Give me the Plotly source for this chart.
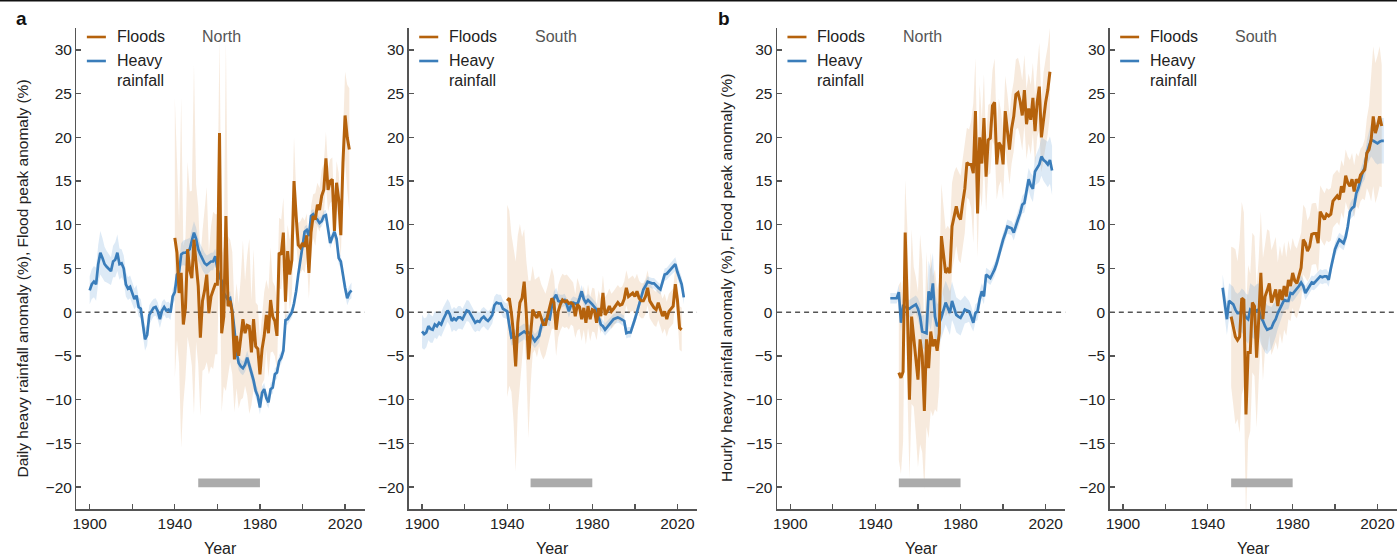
import plotly.graph_objects as go

FONT = "Liberation Sans, Arial, Helvetica, sans-serif"
ORANGE = "#B5620C"
BLUE = "#3A7DBA"
ORANGE_BAND = "rgba(222,170,120,0.25)"
BLUE_BAND = "rgba(100,160,215,0.22)"
AXC = "#555555"

# ---------------- data ----------------
# Panel a, North (daily)
rain_a_n_years = list(range(1900, 2024))
rain_a_n = [2.5, 3.2, 3.5, 3.2, 5.5, 6.8, 6.2, 5.5, 5.2, 5.0,
            4.7, 5.8, 6.0, 6.8, 5.5, 5.6, 5.0, 3.2, 2.7, 2.9,
            2.2, 1.5, 1.9, 0.6, 0.4, -1.5, -3.1, -2.6, -0.3, 0.1,
            0.5, 0.6, 0.1, -0.8, 0.2, 0.6, 0.2, 0.3, 0.0, 1.8,
            2.3, 4.3, 4.6, 6.6, 6.8, 6.8, 7.0, 7.2, 8.2, 9.1,
            8.4, 7.2, 6.6, 6.0, 5.6, 5.4, 5.6, 5.8, 5.8, 6.4,
            5.0, 4.0, 3.6, 2.2, 1.8, 1.4, 1.6, 0.2, -2.0, -4.5,
            -5.8, -6.2, -6.4, -6.0, -5.2, -6.0, -7.0, -7.8, -9.0, -9.6,
            -10.9, -9.2, -8.8, -9.8, -10.3, -8.8, -8.6, -7.1, -6.9, -5.6,
            -5.2, -4.4, -0.9, -0.8, -0.4, 0.0, 1.0, 2.4, 4.3, 5.9,
            7.5, 9.2, 9.4, 8.7, 11.0, 11.2, 10.8, 10.6, 10.2, 10.4,
            11.0, 11.1, 9.5, 7.9, 8.6, 9.2, 8.4, 6.2, 5.8, 4.0,
            2.8, 1.6, 2.2, 2.5]
rain_a_n_err = [1.6, 1.7, 1.8, 1.9, 2.2, 2.5, 2.3, 2.0, 1.8, 1.7,
                1.6, 1.8, 2.0, 2.1, 1.8, 1.6, 1.5, 1.4, 1.3, 1.3,
                1.2, 1.2, 1.2, 1.1, 1.1, 1.2, 1.3, 1.2, 1.1, 1.1,
                1.0, 1.0, 1.0, 1.0, 1.0, 0.9, 0.9, 0.9, 0.9, 0.9,
                0.9, 1.0, 1.1, 1.3, 1.4, 1.5, 1.4, 1.3, 1.3, 1.3,
                1.3, 1.3, 1.2, 1.2, 1.2, 1.1, 1.1, 1.0, 1.0, 0.9,
                0.9, 0.8, 0.8, 0.8, 0.8, 0.8, 0.8, 0.8, 0.8, 0.8,
                0.8, 0.8, 0.8, 0.8, 0.8, 0.8, 0.8, 0.8, 0.8, 0.8,
                0.8, 0.7, 0.7, 0.7, 0.7, 0.7, 0.7, 0.7, 0.7, 0.7,
                0.7, 0.7, 0.6, 0.6, 0.6, 0.6, 0.6, 0.6, 0.6, 0.6,
                0.6, 0.6, 0.6, 0.6, 0.6, 0.6, 0.6, 0.6, 0.6, 0.6,
                0.6, 0.6, 0.6, 0.6, 0.6, 0.6, 0.6, 0.7, 0.7, 0.7,
                0.8, 0.8, 0.8, 0.9]
flood_a_n_years = list(range(1940, 2023))
flood_a_n = [8.5, 6.8, 2.2, 4.5, -1.4, 0.5, 7.2, 4.8, 3.9, 8.3,
             5.6, 3.0, -2.9, 1.3, 2.5, 4.3, -0.1, 1.8, 2.5, 3.2,
             3.2, 20.5, -2.4, -0.5, 11.0, 0.7, 1.3, -0.1, -5.4, -2.7,
             -5.0, -3.0, -0.8, -2.4, -1.5, -1.6, -4.6, -0.8, -3.9, -4.2,
             -7.1, -4.2, -2.7, -0.3, -2.4, 1.4, -0.5, -1.0, -2.7, 6.8,
             6.6, 9.1, 1.2, 7.0, 4.3, 6.0, 15.0, 11.0, 7.7, 7.4,
             7.9, 7.5, 8.8, 4.5, 9.1, 11.0, 10.6, 12.3, 11.7, 13.3,
             14.0, 17.6, 14.0, 15.0, 15.2, 9.3, 14.8, 12.9, 8.8, 17.1,
             22.5, 20.0, 18.6]
flood_a_n_err = [16, 10, 8, 20, 9, 8, 10, 9, 10, 20,
                 9, 9, 9, 8, 9, 10, 7, 8, 9, 8,
                 8, 11, 9, 8, 20, 8, 7, 7, 6, 6,
                 6, 7, 9, 6, 8, 10, 6, 8, 5, 5,
                 4, 4, 5, 4, 5, 6, 4, 4, 4, 4,
                 4, 4, 5, 3, 4, 4, 5, 3, 2.5, 3,
                 3, 3, 2.5, 3, 3, 2.5, 3, 2.5, 2.5, 3,
                 3, 3, 2.5, 2.5, 2.5, 2, 2.5, 3, 2.5, 3,
                 5, 6, 7]

# Panel a, South (daily)
rain_a_s_years = list(range(1900, 2024))
rain_a_s = [-2.2, -2.5, -2.3, -1.6, -1.9, -2.0, -1.4, -1.6, -1.2, -1.4,
            -0.8, -0.3, 0.2, -0.2, -1.0, -0.7, -0.9, -0.6, -0.6, -0.8,
            -0.3, 0.2, 0.1, -0.3, -0.8, -1.2, -1.0, -1.1, -0.7, -0.5,
            -0.8, -1.0, -0.7, -0.3, 0.8, 1.1, 1.0, 1.0, 0.4, 0.2,
            0.1, -1.5, -2.9, -2.8, -2.9, -2.7, -2.5, -2.4, -2.2, -2.4,
            -2.3, -2.5, -2.9, -3.3, -3.0, -2.7, -1.6, -1.0, -0.8, -0.7,
            -0.8, 0.7, 1.6, 2.0, 1.3, 1.2, 1.3, 1.4, 0.9, 0.1,
            0.8, 1.1, 1.0, 0.9, 1.6, 2.4, 1.5, 1.1, 1.4, 1.2,
            0.9, 0.6, 0.3, -0.6, -1.4, -1.6, -2.0, -1.7, -1.4, -1.1,
            -0.8, -0.7, -0.6, -0.7, -0.9, -1.0, -2.4, -2.3, -2.3, -1.4,
            -0.8, 0.0, 0.9, 1.8, 2.6, 3.0, 3.5, 3.4, 3.3, 3.3,
            3.0, 2.8, 2.6, 3.5, 4.3, 4.4, 4.7, 5.0, 5.3, 5.5,
            4.6, 3.8, 3.2, 1.7]
rain_a_s_err = [1.9, 1.8, 1.7, 1.6, 1.6, 1.5, 1.5, 1.5, 1.4, 1.4,
                1.4, 1.4, 1.3, 1.3, 1.3, 1.3, 1.3, 1.3, 1.3, 1.2,
                1.2, 1.2, 1.2, 1.2, 1.2, 1.1, 1.1, 1.1, 1.1, 1.1,
                1.1, 1.1, 1.0, 1.0, 1.0, 1.0, 1.0, 1.0, 1.0, 0.9,
                0.9, 0.9, 0.9, 0.9, 0.9, 0.9, 0.9, 0.9, 0.9, 0.9,
                0.9, 0.9, 0.9, 0.8, 0.8, 0.8, 0.8, 0.8, 0.8, 0.8,
                0.8, 0.8, 0.8, 0.8, 0.8, 0.8, 0.7, 0.7, 0.7, 0.7,
                0.7, 0.7, 0.7, 0.7, 0.7, 0.7, 0.7, 0.7, 0.7, 0.7,
                0.7, 0.7, 0.7, 0.7, 0.7, 0.7, 0.7, 0.7, 0.7, 0.7,
                0.6, 0.6, 0.6, 0.6, 0.6, 0.6, 0.6, 0.6, 0.6, 0.6,
                0.6, 0.6, 0.6, 0.6, 0.6, 0.6, 0.6, 0.6, 0.6, 0.6,
                0.6, 0.6, 0.6, 0.6, 0.7, 0.7, 0.7, 0.8, 0.8, 0.8,
                0.8, 0.8, 0.8, 0.8]
flood_a_s_years = list(range(1940, 2023))
flood_a_s = [1.3, 1.6, -0.1, -2.5, -6.2, -1.2, 1.1, 1.6, 3.5, -0.1,
             -5.4, -2.4, 0.3, -0.3, -0.65, 0.1, -0.8, -1.4, -1.4, -0.5,
             0.5, 1.6, 1.1, -2.0, 0.1, 0.9, 1.4, 1.2, 1.3, 1.0,
             1.1, 0.9, -0.45, 0.9, 0.6, -0.8, 0.5, -1.2, 0.7, -0.8,
             0.3, 0.2, -1.2, 0.5, -0.45, 2.2, -0.3, 0.1, 0.7, 0.1,
             0.4, 0.7, 1.1, 0.8, 0.9, 1.5, 2.8, 1.8, 2.0, 2.2,
             1.8, 2.4, 1.6, 1.3, 1.3, 1.8, 2.8, 1.3, 0.9, 0.5,
             0.3, 1.1, 0.3, -0.45, 0.1, -0.8, 0.1, 0.4, 0.7, 3.2,
             1.4, -1.8, -2.0]
flood_a_s_err = [11, 10, 9, 10, 12, 10, 9, 7, 6, 6,
                 9, 6, 5, 4, 4.5, 4, 4, 4, 3.5, 3.5,
                 3.5, 3.5, 3, 3, 3, 3, 3, 3, 3, 3,
                 2.5, 2.5, 2.5, 3, 2.5, 2.5, 2.5, 2.5, 2.5, 2.5,
                 2.5, 2.5, 2, 2, 2, 2, 2, 2, 2, 2,
                 2, 2, 2, 2, 2, 2, 2, 2, 2, 2,
                 2, 2, 2, 2, 2, 2, 2, 2, 2, 2,
                 2, 2, 2, 2, 2, 2, 2, 2, 2, 2,
                 2, 2.5, 2.5]

# Panel b, North (hourly)
rain_b_n_years = list(range(1947, 2024))
rain_b_n = [1.6, 1.6, 1.6, 1.6,
            2.3, -1.2, 0.7, 0.6, 0.5, 0.4, 0.6, 0.8, 0.9, 0.4,
            -0.5, -2.2, -2.3, -2.4, 2.4, 1.4, 3.3, -0.5, -1.6, -1.2,
            -0.6, 0.3, 1.1, 0.5, -0.1, 1.3, 0.5, -0.3, -0.5, -0.65,
            -0.2, 0.3, 0.2, 0.1, -0.5, -1.2, -0.1, 0.1, 1.5, 2.4,
            1.8, 4.3, 4.1, 3.9, 4.4, 4.9, 5.6, 6.6, 7.5, 8.3,
            9.0, 9.8, 9.7, 9.6, 9.1, 10.0, 10.6, 11.3, 12.3, 12.5,
            13.8, 15.2, 14.5, 14.1, 16.1, 16.5, 16.9, 17.8, 17.4, 17.2,
            16.9, 17.4, 16.2]
rain_b_n_err = [0.6, 0.6, 0.6, 0.6,
                0.8, 1.0, 1.0, 1.0, 1.0, 1.0, 1.0, 1.0, 1.0, 1.2,
                1.5, 1.8, 2.0, 2.5, 3.5, 3.5, 3.5, 3.0, 2.5, 2.5,
                2.5, 2.5, 2.5, 2.5, 2.5, 2.2, 2.0, 2.0, 2.0, 2.0,
                1.8, 1.6, 1.4, 1.2, 1.2, 1.0, 1.0, 1.0, 1.0, 0.9,
                0.9, 0.8, 0.8, 0.8, 0.8, 0.8, 0.8, 0.8, 0.8, 0.8,
                0.8, 0.8, 0.8, 0.8, 0.9, 0.9, 1.0, 1.0, 1.0, 1.1,
                1.2, 1.3, 1.4, 1.5, 1.6, 1.8, 2.0, 2.2, 2.4, 2.5,
                2.6, 2.7, 2.8]
flood_b_n_years = list(range(1951, 2023))
flood_b_n = [-6.9, -7.5, -6.8, 9.1, 0.7, -10.0, -0.5, -2.8, -5.0, -7.7,
             -3.1, -5.0, -11.3, -3.1, -6.4, -2.2, -3.9, -3.1, -4.4, -2.4,
             8.7, 6.8, 4.5, 4.9, 4.5, 9.8, 11.0, 12.1, 11.0, 10.6,
             12.5, 14.1, 17.1, 16.9, 16.9, 15.9, 23.0, 11.3, 20.0, 17.0,
             22.2, 15.5, 19.7, 19.9, 23.6, 24.0, 16.9, 19.4, 19.0, 16.9,
             23.0, 21.0, 18.6, 21.0, 22.4, 24.9, 25.1, 24.1, 22.5, 25.4,
             21.5, 23.3, 22.0, 24.5, 20.7, 24.0, 25.8, 20.0, 22.4, 24.0,
             25.4, 27.5]
flood_b_n_err = [10, 11, 8, 6, 9, 9, 10, 8, 9, 10,
                 12, 11, 9, 10, 8, 9, 8, 8, 7, 6,
                 6, 5, 5, 5, 5, 5, 5, 4.5, 5, 5,
                 5, 5, 4, 4, 5, 8, 6, 5, 6, 5,
                 5, 4, 4, 4, 4, 5, 4, 5, 4, 4,
                 4, 4, 4, 4, 4, 4, 4, 4, 4, 4,
                 4, 4, 4, 4, 4, 4, 5, 4, 5, 5,
                 5, 5]

# Panel b, South (hourly)
rain_b_s_years = list(range(1947, 2024))
rain_b_s = [2.8, 1.0, -0.8, 1.3,
            1.1, 0.9, 0.3, -0.1, -0.1, 0.2, -0.1, -0.6, -0.8, 0.3,
            0.1, -0.1, 0.2, 0.3, -0.6, -1.0, -1.6, -2.0, -1.9, -1.8,
            -1.2, -0.8, -0.1, 0.5, 0.9, 1.4, 1.3, 1.3, 2.2, 2.1,
            2.4, 2.6, 3.0, 3.4, 3.0, 2.2, 2.6, 3.0, 3.4, 3.3,
            3.6, 3.8, 4.1, 4.0, 4.1, 4.1, 3.7, 5.0, 6.2, 7.2,
            7.8, 8.3, 8.1, 7.9, 8.6, 9.8, 11.5, 11.9, 12.1, 13.6,
            14.2, 15.2, 16.0, 16.5, 18.2, 19.0, 19.7, 19.6, 19.4, 19.3,
            19.5, 19.6, 19.6]
rain_b_s_err = [1.5, 1.6, 1.8, 2.0,
                2.0, 2.0, 2.0, 2.2, 2.4, 2.5, 2.6, 2.7, 2.8, 3.0,
                3.0, 3.0, 3.0, 3.0, 3.0, 3.0, 3.0, 2.8, 2.6, 2.4,
                2.2, 2.0, 1.8, 1.6, 1.4, 1.2, 1.0, 1.0, 0.9, 0.9,
                0.9, 0.8, 0.8, 0.8, 0.8, 0.8, 0.8, 0.8, 0.8, 0.8,
                0.8, 0.8, 0.8, 0.8, 0.8, 0.8, 0.8, 0.8, 0.8, 0.8,
                0.8, 0.8, 0.8, 0.8, 0.8, 0.9, 0.9, 1.0, 1.0, 1.0,
                1.0, 1.1, 1.2, 1.3, 1.5, 1.7, 1.9, 2.1, 2.3, 2.4,
                2.5, 2.6, 2.6]
flood_b_s_years = list(range(1951, 2023))
flood_b_s = [-0.5, -1.6, -2.8, -3.2, -2.8, 1.6, 1.4, -11.7, -4.6, -4.6,
             1.1, 0.7, -5.2, -0.8, 4.5, -0.8, 1.8, 2.5, 3.3, 1.1,
             1.8, 2.6, 0.7, 2.6, 1.4, 3.0, 1.8, 3.7, 3.0, 4.5,
             3.6, 3.3, 4.2, 5.1, 8.3, 7.9, 7.0, 7.5, 8.9, 9.0,
             9.0, 7.9, 11.5, 11.0, 10.6, 11.2, 11.0, 11.2, 12.7, 13.0,
             13.3, 12.9, 14.4, 13.7, 15.6, 14.8, 14.4, 15.2, 13.8, 15.2,
             14.8, 15.7, 16.0, 16.3, 18.2, 18.6, 19.7, 22.4, 20.5, 21.3,
             22.4, 21.3]
flood_b_s_err = [8, 9, 10, 9, 11, 11, 10, 12, 10, 9,
                 8, 8, 8, 7, 7, 7, 6, 7, 6, 6,
                 6, 6, 5, 5, 5, 5, 4.5, 4.5, 4, 4,
                 4, 4, 4, 4, 4, 4, 3.5, 3.5, 3.5, 3.5,
                 3.5, 3.5, 3, 3, 3, 3, 3, 3, 3, 3,
                 3, 3, 3, 3, 3, 3, 3, 3, 3, 3,
                 3, 3, 3, 3.5, 4, 5, 7, 8, 8, 8,
                 8, 7]

baseline_period = [1951, 1980]
baseline_bar_y = [-20, -19]

x_tick_vals = [1900, 1920, 1940, 1960, 1980, 2000, 2020]
x_tick_text = ["1900", "", "1940", "", "1980", "", "2020"]
y_tick_vals = [-20, -15, -10, -5, 0, 5, 10, 15, 20, 25, 30]
y_tick_text = ["\u221220", "\u221215", "\u221210", "\u22125", "0", "5", "10", "15", "20", "25", "30"]

panels = [
    dict(rain_years=rain_a_n_years, rain=rain_a_n, rain_err=rain_a_n_err,
         flood_years=flood_a_n_years, flood=flood_a_n, flood_err=flood_a_n_err, region="North"),
    dict(rain_years=rain_a_s_years, rain=rain_a_s, rain_err=rain_a_s_err,
         flood_years=flood_a_s_years, flood=flood_a_s, flood_err=flood_a_s_err, region="South"),
    dict(rain_years=rain_b_n_years, rain=rain_b_n, rain_err=rain_b_n_err,
         flood_years=flood_b_n_years, flood=flood_b_n, flood_err=flood_b_n_err, region="North"),
    dict(rain_years=rain_b_s_years, rain=rain_b_s, rain_err=rain_b_s_err,
         flood_years=flood_b_s_years, flood=flood_b_s, flood_err=flood_b_s_err, region="South"),
]

W, H = 1397, 556
MT, MB = 28, 47
PH = H - MT - MB
domains = [[72.7 / W, 361.7 / W], [406 / W, 695 / W], [775.3 / W, 1064.3 / W], [1109 / W, 1.0]]

def py(pix):
    """pixel row -> paper y"""
    return (H - MB - pix) / PH

fig = go.Figure()
shapes = []
annotations = []

def band(years, vals, errs):
    up = [v + e for v, e in zip(vals, errs)]
    lo = [v - e for v, e in zip(vals, errs)]
    return years + years[::-1], up + lo[::-1]

for i, p in enumerate(panels):
    assert len(p["rain_years"]) == len(p["rain"]) == len(p["rain_err"]), i
    assert len(p["flood_years"]) == len(p["flood"]) == len(p["flood_err"]), i
    n = "" if i == 0 else str(i + 1)
    xa, ya = "x" + n, "y" + n
    bx, by = band(p["flood_years"], p["flood"], p["flood_err"])
    fig.add_trace(go.Scatter(x=bx, y=by, fill="toself", fillcolor=ORANGE_BAND, mode="lines",
                             line=dict(width=0), xaxis=xa, yaxis=ya, hoverinfo="skip", showlegend=False))
    bx, by = band(p["rain_years"], p["rain"], p["rain_err"])
    fig.add_trace(go.Scatter(x=bx, y=by, fill="toself", fillcolor=BLUE_BAND, mode="lines",
                             line=dict(width=0), xaxis=xa, yaxis=ya, hoverinfo="skip", showlegend=False))
    fig.add_trace(go.Scatter(x=p["rain_years"], y=p["rain"], mode="lines",
                             line=dict(color=BLUE, width=2.7), xaxis=xa, yaxis=ya, showlegend=False))
    fig.add_trace(go.Scatter(x=p["flood_years"], y=p["flood"], mode="lines",
                             line=dict(color=ORANGE, width=3), xaxis=xa, yaxis=ya, showlegend=False))

    fig.update_layout(**{
        ("xaxis" + n): dict(domain=domains[i], anchor=ya, range=[1893.8, 2029.2],
                            tickvals=x_tick_vals, ticktext=x_tick_text, ticks="inside", ticklen=5,
                            tickwidth=1.3, tickcolor=AXC, showline=True, linecolor=AXC, linewidth=1.5,
                            showgrid=False, zeroline=False,
                            tickfont=dict(family=FONT, size=15.5, color="#222")),
        ("yaxis" + n): dict(domain=[0, 1], anchor=xa, range=[-22.5, 32.5],
                            tickvals=y_tick_vals, ticktext=y_tick_text, ticks="inside", ticklen=5,
                            tickwidth=1.3, tickcolor=AXC, showline=True, linecolor=AXC, linewidth=1.5,
                            showgrid=False, zeroline=False,
                            tickfont=dict(family=FONT, size=15.5, color="#222")),
    })

    xd = xa + " domain"
    # zero dashed line
    shapes.append(dict(type="line", xref=xd, yref=ya, x0=0, x1=1, y0=0, y1=0,
                       line=dict(color="#555", width=1.3, dash="5px,4px"), layer="below"))
    # baseline bar
    shapes.append(dict(type="rect", xref=xa, yref=ya, x0=baseline_period[0], x1=baseline_period[1],
                       y0=baseline_bar_y[0], y1=baseline_bar_y[1], fillcolor="#ababab", line=dict(width=0)))
    # legend
    shapes.append(dict(type="line", xref=xd, yref="paper", x0=0.036, x1=0.102, y0=py(37), y1=py(37),
                       line=dict(color=ORANGE, width=2.6)))
    shapes.append(dict(type="line", xref=xd, yref="paper", x0=0.036, x1=0.102, y0=py(61), y1=py(61),
                       line=dict(color=BLUE, width=2.6)))
    for txt, yy in (("Floods", 37), ("Heavy", 61), ("rainfall", 80)):
        annotations.append(dict(text=txt, xref=xd, yref="paper", x=0.133, y=py(yy), xanchor="left",
                                yanchor="middle", showarrow=False, font=dict(family=FONT, size=16, color="#222")))
    annotations.append(dict(text=p["region"], xref=xd, yref="paper", x=0.43, y=py(37), xanchor="left",
                            yanchor="middle", showarrow=False, font=dict(family=FONT, size=16, color="#555")))
    annotations.append(dict(text="Year", xref=xd, yref="paper", x=0.5, y=py(548), xanchor="center",
                            yanchor="middle", showarrow=False, font=dict(family=FONT, size=16, color="#222")))

# header rule
shapes.append(dict(type="line", xref="paper", yref="paper", x0=-0.01, x1=1.01, y0=py(0.8), y1=py(0.8),
                   line=dict(color="#111", width=1.6)))

annotations += [
    dict(text="<b>a</b>", xref="paper", yref="paper", x=18 / W, y=py(18), xanchor="center", yanchor="middle",
         showarrow=False, font=dict(family=FONT, size=19, color="#111")),
    dict(text="<b>b</b>", xref="paper", yref="paper", x=722 / W, y=py(18), xanchor="center", yanchor="middle",
         showarrow=False, font=dict(family=FONT, size=19, color="#111")),
    dict(text="Daily heavy rainfall anomaly (%), Flood peak anomaly (%)", xref="paper", yref="paper",
         x=18.5 / W, y=py(278), textangle=-90, xanchor="center", yanchor="middle", showarrow=False,
         font=dict(family=FONT, size=15.5, color="#222")),
    dict(text="Hourly heavy rainfall anomaly (%), Flood peak anomaly (%)", xref="paper", yref="paper",
         x=724 / W, y=py(278), textangle=-90, xanchor="center", yanchor="middle", showarrow=False,
         font=dict(family=FONT, size=15.5, color="#222")),
]

fig.update_layout(width=W, height=H, margin=dict(l=0, r=0, t=MT, b=MB),
                  paper_bgcolor="white", plot_bgcolor="white", showlegend=False,
                  shapes=shapes, annotations=annotations, font=dict(family=FONT))

fig.write_html("out.html", config={"displayModeBar": False, "staticPlot": True},
               post_script="document.body.style.margin='0';document.body.style.overflow='hidden';")
